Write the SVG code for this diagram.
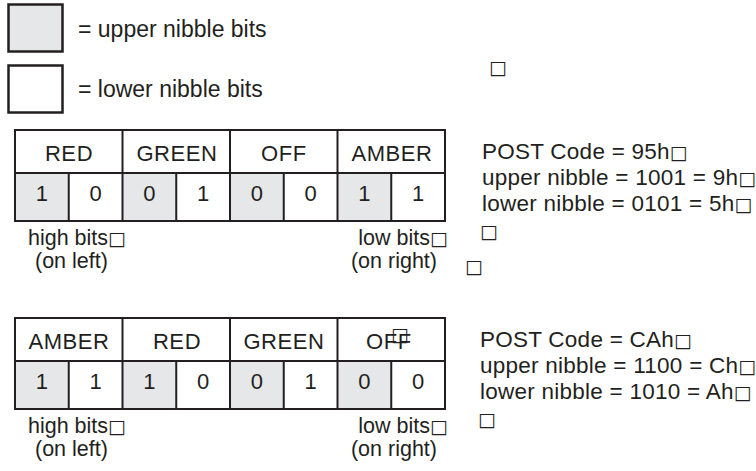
<svg xmlns="http://www.w3.org/2000/svg" width="756" height="471" viewBox="0 0 756 471">
<style>
text{font-family:"Liberation Sans",Arial,sans-serif;fill:#231f20}
.lg{font-size:23px}
.hd{font-size:22px;letter-spacing:0.6px;text-anchor:middle}
.bt{font-size:22px;text-anchor:middle}
.nt{font-size:21.5px}
.rt{font-size:22.5px;letter-spacing:0.25px}
.box{stroke:#231f20;stroke-width:2.5;fill:#fff}
.up{fill:#e6e7e8}
.ln{stroke:#231f20;stroke-width:2;fill:none}
.tf{font-family:"DejaVu Sans",sans-serif;font-size:19px;font-weight:bold;letter-spacing:0}
</style>
<g id="legend-upper">
<rect class="box up" x="8.5" y="4.5" width="54" height="47"/>
<text class="lg" x="78" y="37">= upper nibble bits</text>
</g>
<g id="legend-lower">
<rect class="box" x="8.5" y="65.5" width="54" height="47"/>
<text class="lg" x="78" y="97">= lower nibble bits</text>
</g>
<text class="tf" x="489" y="74">□</text>
<g id="table1">
<rect class="up" x="15" y="173" width="53.75" height="48"/>
<rect class="up" x="122.5" y="173" width="53.75" height="48"/>
<rect class="up" x="230" y="173" width="53.75" height="48"/>
<rect class="up" x="337.5" y="173" width="53.75" height="48"/>
<rect class="ln" x="15" y="130" width="430" height="91"/>
<path class="ln" d="M15 173H445M122.5 130V221M230 130V221M337.5 130V221M68.75 173V221M176.25 173V221M283.75 173V221M391.25 173V221"/>
<text class="hd" x="69" y="161">RED</text>
<text class="hd" x="177" y="161">GREEN</text>
<text class="hd" x="284" y="161">OFF</text>
<text class="hd" x="392" y="161">AMBER</text>
<text class="bt" x="41.9" y="201">1</text>
<text class="bt" x="95.6" y="201">0</text>
<text class="bt" x="149.4" y="201">0</text>
<text class="bt" x="203.1" y="201">1</text>
<text class="bt" x="256.9" y="201">0</text>
<text class="bt" x="310.6" y="201">0</text>
<text class="bt" x="364.4" y="201">1</text>
<text class="bt" x="418.1" y="201">1</text>
<text class="nt" x="28" y="245">high bits<tspan class="tf">□</tspan></text>
<text class="nt" x="35" y="268">(on left)</text>
<text class="nt" x="448" y="245" text-anchor="end">low bits<tspan class="tf">□</tspan></text>
<text class="nt" x="437" y="268" text-anchor="end">(on right)</text>
</g>
<g id="code1">
<text class="rt" x="482" y="159">POST Code = 95h<tspan class="tf">□</tspan></text>
<text class="rt" x="482" y="185">upper nibble = 1001 = 9h<tspan class="tf">□</tspan></text>
<text class="rt" x="482" y="211">lower nibble = 0101 = 5h<tspan class="tf">□</tspan></text>
<text class="tf" x="480" y="238">□</text>
<text class="tf" x="465" y="273">□</text>
</g>
<g id="table2">
<rect class="up" x="15" y="361" width="53.75" height="48"/>
<rect class="up" x="122.5" y="361" width="53.75" height="48"/>
<rect class="up" x="230" y="361" width="53.75" height="48"/>
<rect class="up" x="337.5" y="361" width="53.75" height="48"/>
<rect class="ln" x="15" y="318" width="430" height="91"/>
<path class="ln" d="M15 361H445M122.5 318V409M230 318V409M337.5 318V409M68.75 361V409M176.25 361V409M283.75 361V409M391.25 361V409"/>
<text class="hd" x="69" y="349">AMBER</text>
<text class="hd" x="177" y="349">RED</text>
<text class="hd" x="284" y="349">GREEN</text>
<text class="hd" x="389" y="349">OFF</text>
<text class="tf" x="391" y="341">□</text>
<text class="bt" x="41.9" y="389">1</text>
<text class="bt" x="95.6" y="389">1</text>
<text class="bt" x="149.4" y="389">1</text>
<text class="bt" x="203.1" y="389">0</text>
<text class="bt" x="256.9" y="389">0</text>
<text class="bt" x="310.6" y="389">1</text>
<text class="bt" x="364.4" y="389">0</text>
<text class="bt" x="418.1" y="389">0</text>
<text class="nt" x="28" y="433">high bits<tspan class="tf">□</tspan></text>
<text class="nt" x="35" y="456">(on left)</text>
<text class="nt" x="448" y="433" text-anchor="end">low bits<tspan class="tf">□</tspan></text>
<text class="nt" x="437" y="456" text-anchor="end">(on right)</text>
</g>
<g id="code2">
<text class="rt" x="480" y="347">POST Code = CAh<tspan class="tf">□</tspan></text>
<text class="rt" x="480" y="373">upper nibble = 1100 = Ch<tspan class="tf">□</tspan></text>
<text class="rt" x="480" y="399">lower nibble = 1010 = Ah<tspan class="tf">□</tspan></text>
<text class="tf" x="478" y="426">□</text>
</g>
</svg>
